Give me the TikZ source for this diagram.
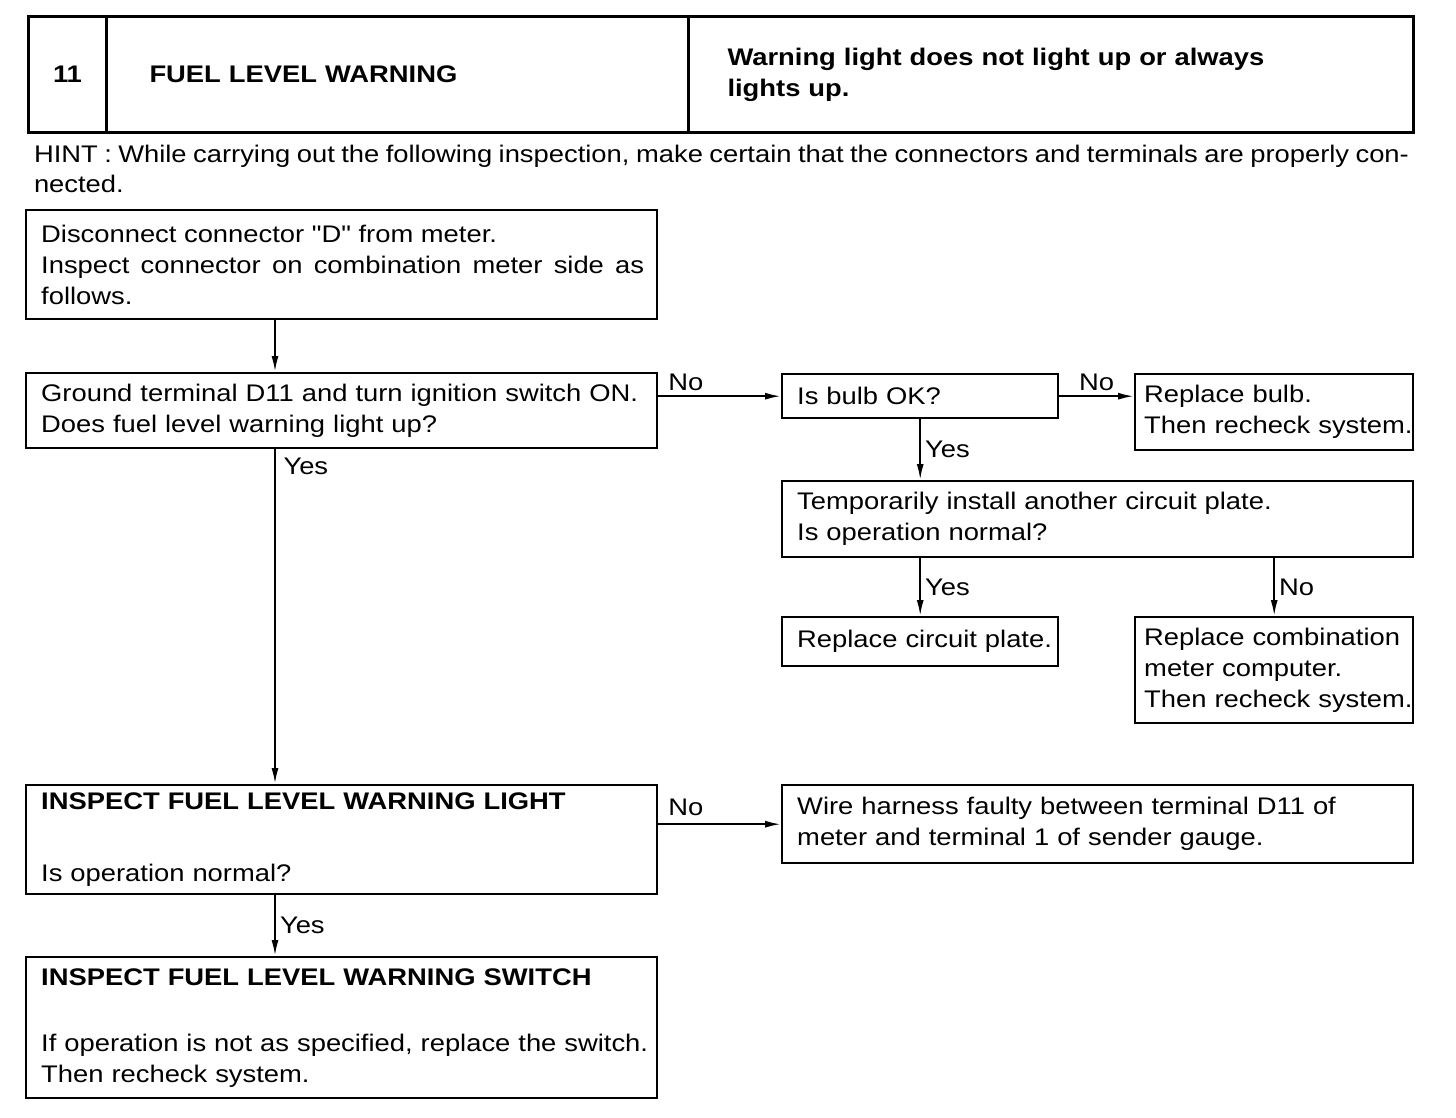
\documentclass[tikz,border=0pt]{standalone}
\usepackage{fontspec}
\setmainfont{Liberation Sans}[FakeStretch=1.14, Ligatures=TeXOff]
\usetikzlibrary{arrows.meta}
\newcommand{\boxfont}{\fontsize{12}{15.5}\selectfont}

\begin{document}
\begin{tikzpicture}[auto,->,>={Latex[length=8pt,width=3.5pt]},
    x=0.5pt, y=-0.5pt, line width=1pt,
    hdcell/.style={draw, line width=1.5pt, anchor=north west, inner sep=0pt,
      minimum height=58pt, font=\boxfont\bfseries},
    box/.style={draw, line width=1.2pt, anchor=north west, inner xsep=0pt,
      inner ysep=1pt, align=left, font=\boxfont,
      execute at begin node={\leftskip=#1}},
    box/.default=7.5pt,
    lbl/.style={font=\boxfont, inner sep=2pt}]
    \useasboundingbox (0,0) rectangle (1456,1118);
    % title bar
    \node[hdcell, minimum width=39pt] (hnum) at (27,15) {11};
    \node[hdcell, text width=291pt, align=left,
      execute at begin node={\leftskip=21.5pt}] (htitle) at (105,15) {FUEL LEVEL WARNING};
    \node[hdcell, text width=362.5pt, align=left,
      execute at begin node={\leftskip=19.5pt}] (hsymp) at (687,15)
      {Warning light does not light up or always\\lights up.};
    \node[anchor=north west, inner sep=0pt, text width=687.5pt, align=justify,
      font=\fontsize{12}{15}\selectfont] (hint) at (33,144)
      {HINT : While carrying out the following inspection, make certain that the connectors and terminals are properly con-\linebreak nected.};
    % left column
    \node[box, text width=315.5pt, minimum height=54.5pt, align=justify,
      execute at begin node={\leftskip=7.5pt\rightskip=6.5pt}] (disc) at (25,209)
      {Disconnect connector "D" from meter.\\Inspect connector on combination meter side as follows.};
    \node[box, text width=315.5pt, minimum height=37.5pt] (ground) at (25,372)
      {Ground terminal D11 and turn ignition switch ON.\\Does fuel level warning light up?};
    \node[box, text width=315.5pt, minimum height=54.5pt] (light) at (25,784)
      {\textbf{INSPECT FUEL LEVEL WARNING LIGHT}\\[20.5pt]Is operation normal?};
    \node[box, text width=315.5pt, minimum height=70.5pt] (switch) at (25,956)
      {\textbf{INSPECT FUEL LEVEL WARNING SWITCH}\\[17.5pt]If operation is not as specified, replace the switch.\\Then recheck system.};
    % right side
    \node[box, text width=138pt, minimum height=22pt] (bulb) at (781,373) {Is bulb OK?};
    \node[box=4.5pt, text width=139pt, minimum height=38pt] (rbulb) at (1134,373)
      {Replace bulb.\\Then recheck system.};
    \node[box, text width=315.5pt, minimum height=38pt] (plate) at (781,480)
      {Temporarily install another circuit plate.\\Is operation normal?};
    \node[box, text width=138pt, minimum height=24.5pt] (rplate) at (781,616) {Replace circuit plate.};
    \node[box=4.5pt, text width=139pt, minimum height=53pt] (rmeter) at (1134,616)
      {Replace combination\\meter computer.\\Then recheck system.};
    \node[box, text width=315.5pt, minimum height=39pt] (wire) at (781,784)
      {Wire harness faulty between terminal D11 of\\meter and terminal 1 of sender gauge.};
    % main vertical line
    \coordinate (spine) at (275,0);
    \draw (spine |- disc.south) -- (spine |- ground.north);
    \draw (spine |- ground.south) -- node[pos=0, anchor=north west, lbl, xshift=1.75pt, yshift=-2pt] {Yes} (spine |- light.north);
    \draw (spine |- light.south) -- node[lbl] {Yes} (spine |- switch.north);
    % branches to the right
    \draw (ground.east |- bulb.west) -- node[pos=0, anchor=south west, lbl, xshift=2.5pt] {No} (bulb.west);
    \draw (bulb.east) -- node[lbl] {No} (bulb.east -| rbulb.west);
    \draw (bulb.south) -- node[lbl] {Yes} (bulb.south |- plate.north);
    \draw (plate.south -| rplate.north) -- node[lbl] {Yes} (rplate.north);
    \draw (plate.south -| rmeter.north) -- node[lbl] {No} (rmeter.north);
    \draw (light.east |- wire.west) -- node[pos=0, anchor=south west, lbl, xshift=2.5pt, yshift=1.7pt] {No} (wire.west);
  \end{tikzpicture}
\end{document}
